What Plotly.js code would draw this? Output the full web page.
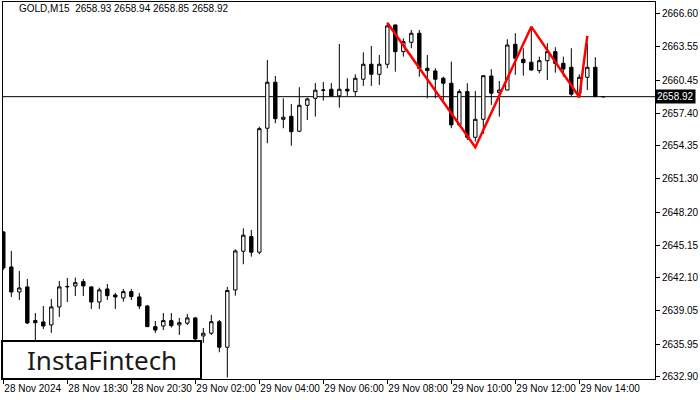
<!DOCTYPE html>
<html>
<head>
<meta charset="utf-8">
<script src="https://cdn.plot.ly/plotly-3.0.1.min.js"></script>
<style>html,body{margin:0;padding:0;background:#fff;}#chart{width:700px;height:400px;}</style>
</head>
<body>
<div id="chart"></div>
<script>
// GOLD M15 candles (index 0 = oldest)
const open  = [2646.36,2643.11,2640.79,2641.26,2638.13,2638.01,2637.73,2639.40,2641.26,2641.35,
               2641.75,2641.26,2639.86,2641.07,2640.51,2640.23,2640.82,2640.33,2639.49,2637.57,
               2637.63,2638.13,2637.73,2637.89,2638.38,2636.71,2636.96,2638.03,2635.66,2640.98,
               2644.57,2645.93,2644.48,2655.99,2660.26,2656.82,2657.10,2655.71,2658.12,2658.77,
               2659.50,2659.61,2658.99,2659.61,2659.39,2660.54,2661.93,2661.00,2661.93,2665.58,
               2663.10,2663.97,2664.81,2661.56,2661.31,2660.63,2660.17,2656.30,2659.39,2655.15,
               2656.82,2660.84,2659.29,2659.54,2663.79,2662.39,2662.12,2661.34,2662.26,2663.10,
               2662.02,2661.65,2659.24,2660.72,2661.65,2658.93];
const high  = [2646.45,2644.60,2642.74,2642.00,2638.84,2639.49,2640.14,2641.81,2642.09,2642.12,
               2642.00,2641.30,2641.19,2641.53,2640.70,2641.07,2641.07,2640.70,2639.58,2638.10,
               2638.84,2638.84,2638.38,2638.75,2638.47,2637.45,2638.66,2638.19,2641.26,2644.75,
               2646.70,2646.55,2656.14,2662.33,2660.84,2658.77,2658.24,2659.80,2658.83,2660.19,
               2660.29,2660.19,2663.81,2660.63,2661.00,2663.04,2663.63,2662.79,2665.79,2665.60,
               2664.34,2665.11,2665.11,2662.79,2661.56,2660.78,2662.17,2659.61,2660.17,2659.45,
               2660.90,2661.47,2660.38,2664.25,2664.81,2663.42,2665.27,2662.64,2663.88,2663.51,
               2662.64,2663.42,2661.00,2663.88,2662.58,2658.94];
const low   = [2642.83,2640.33,2640.05,2637.82,2636.24,2637.36,2636.99,2638.47,2639.86,2640.42,
               2640.42,2639.21,2639.21,2640.05,2639.21,2639.89,2640.05,2639.21,2637.54,2636.99,
               2637.26,2637.48,2636.80,2637.73,2636.15,2636.06,2636.80,2635.19,2632.85,2640.45,
               2643.36,2644.07,2644.29,2654.60,2656.45,2655.99,2654.37,2655.65,2656.76,2657.07,
               2658.55,2658.95,2657.90,2658.99,2658.99,2659.92,2659.92,2660.01,2661.56,2661.24,
               2662.64,2663.42,2660.78,2658.77,2658.77,2658.62,2655.99,2656.26,2654.90,2654.75,
               2655.46,2658.15,2657.07,2659.50,2660.94,2660.87,2661.34,2661.09,2660.47,2661.15,
               2660.78,2658.99,2658.87,2659.54,2658.90,2658.85];
const close = [2643.02,2640.79,2641.16,2637.91,2637.94,2637.63,2639.40,2641.26,2641.30,2641.65,
               2641.35,2639.86,2640.98,2640.45,2640.33,2640.82,2640.36,2639.49,2637.57,2637.26,
               2638.13,2637.66,2637.94,2638.38,2636.43,2636.96,2638.03,2635.66,2640.93,2644.60,
               2646.06,2644.48,2655.95,2660.26,2656.88,2657.01,2655.67,2658.12,2658.71,2659.52,
               2659.54,2658.99,2659.61,2659.45,2660.63,2661.93,2661.00,2661.93,2665.49,2663.10,
               2664.03,2664.81,2661.56,2661.34,2660.54,2660.17,2656.30,2659.39,2655.15,2656.82,
               2660.87,2659.24,2659.54,2663.72,2662.49,2662.08,2661.40,2662.26,2663.10,2662.02,
               2661.49,2659.15,2660.72,2661.65,2658.93,2658.92];

// Double top pattern (candle index, price)
const patternIdx   = [48, 59, 66, 72, 73];
const patternPrice = [2665.79, 2654.23, 2665.42, 2658.87, 2664.56];

// Axis ticks
const xTickIdx    = [0, 8, 16, 24, 32, 40, 48, 56, 64, 72];
const xTickLabels = ["28 Nov 2024","28 Nov 18:30","28 Nov 20:30","29 Nov 02:00","29 Nov 04:00",
                     "29 Nov 06:00","29 Nov 08:00","29 Nov 10:00","29 Nov 12:00","29 Nov 14:00"];
const yTickVals   = [2666.60,2663.55,2660.45,2657.40,2654.35,2651.30,2648.20,2645.15,2642.10,2639.05,2635.95,2632.90];

const symbolTitle = "GOLD,M15  2658.93 2658.94 2658.85 2658.92";
const logoText = "InstaFintech";

const idx = open.map((_, i) => i);
const last = close[close.length - 1];
const F = "Liberation Sans, Arial, sans-serif";

const traces = [
  {
    type: 'candlestick', x: idx, open: open, high: high, low: low, close: close,
    increasing: {line: {color: '#000', width: 1}, fillcolor: '#fff'},
    decreasing: {line: {color: '#000', width: 1}, fillcolor: '#000'},
    whiskerwidth: 0, hoverinfo: 'skip', showlegend: false
  },
  {
    type: 'scatter', mode: 'lines', x: patternIdx, y: patternPrice,
    line: {color: '#ff0000', width: 2.5}, hoverinfo: 'skip', showlegend: false
  }
];

const layout = {
  width: 700, height: 400,
  margin: {l: 3, r: 45, t: 2, b: 21},
  paper_bgcolor: '#fff', plot_bgcolor: '#fff',
  showlegend: false,
  boxgap: 0.4,
  font: {family: F, size: 10, color: '#000'},
  xaxis: {
    range: [-0.04, 81.46], rangeslider: {visible: false},
    tickmode: 'array', tickvals: xTickIdx, ticktext: xTickLabels,
    tickangle: 0, automargin: false,
    ticks: 'outside', ticklen: 4, tickcolor: '#000', tickwidth: 1,
    ticklabelposition: 'outside right',
    showgrid: false, zeroline: false,
    showline: true, mirror: true, linecolor: '#000', linewidth: 1,
    tickfont: {family: F, size: 10, color: '#000'}
  },
  yaxis: {
    range: [2632.71, 2667.71], side: 'right', automargin: false,
    tickmode: 'array', tickvals: yTickVals, ticktext: yTickVals.map(v => v.toFixed(2)),
    ticks: 'outside', ticklen: 4, tickcolor: '#000', tickwidth: 1,
    showgrid: false, zeroline: false,
    showline: true, mirror: true, linecolor: '#000', linewidth: 1,
    tickfont: {family: F, size: 10, color: '#000'}
  },
  shapes: [
    {type: 'line', xref: 'paper', yref: 'y', x0: 0, x1: 1, y0: last, y1: last,
     line: {color: '#000', width: 1}, layer: 'below'},
    {type: 'rect', xref: 'paper', yref: 'paper', x0: -0.0015, x1: 0.3037, y0: 0, y1: 0.1008,
     fillcolor: '#fff', line: {color: '#000', width: 2}, layer: 'above'}
  ],
  annotations: [
    {xref: 'paper', yref: 'paper', x: 0.0215, y: 0.984, xanchor: 'left', yanchor: 'middle',
     text: symbolTitle, showarrow: false, font: {family: F, size: 10, color: '#000'}},
    {xref: 'paper', yref: 'y', x: 1, y: last, xanchor: 'left', yanchor: 'middle',
     text: last.toFixed(2), showarrow: false, bgcolor: '#000', borderpad: 1,
     font: {family: F, size: 10, color: '#fff'}},
    {xref: 'paper', yref: 'paper', x: 0.1518, y: 0.05, xanchor: 'center', yanchor: 'middle',
     text: logoText, showarrow: false, font: {family: 'Noto Sans, sans-serif', size: 26, color: '#1a1a1a'}}
  ]
};

Plotly.newPlot('chart', traces, layout, {staticPlot: true, displayModeBar: false});
</script>
</body>
</html>
